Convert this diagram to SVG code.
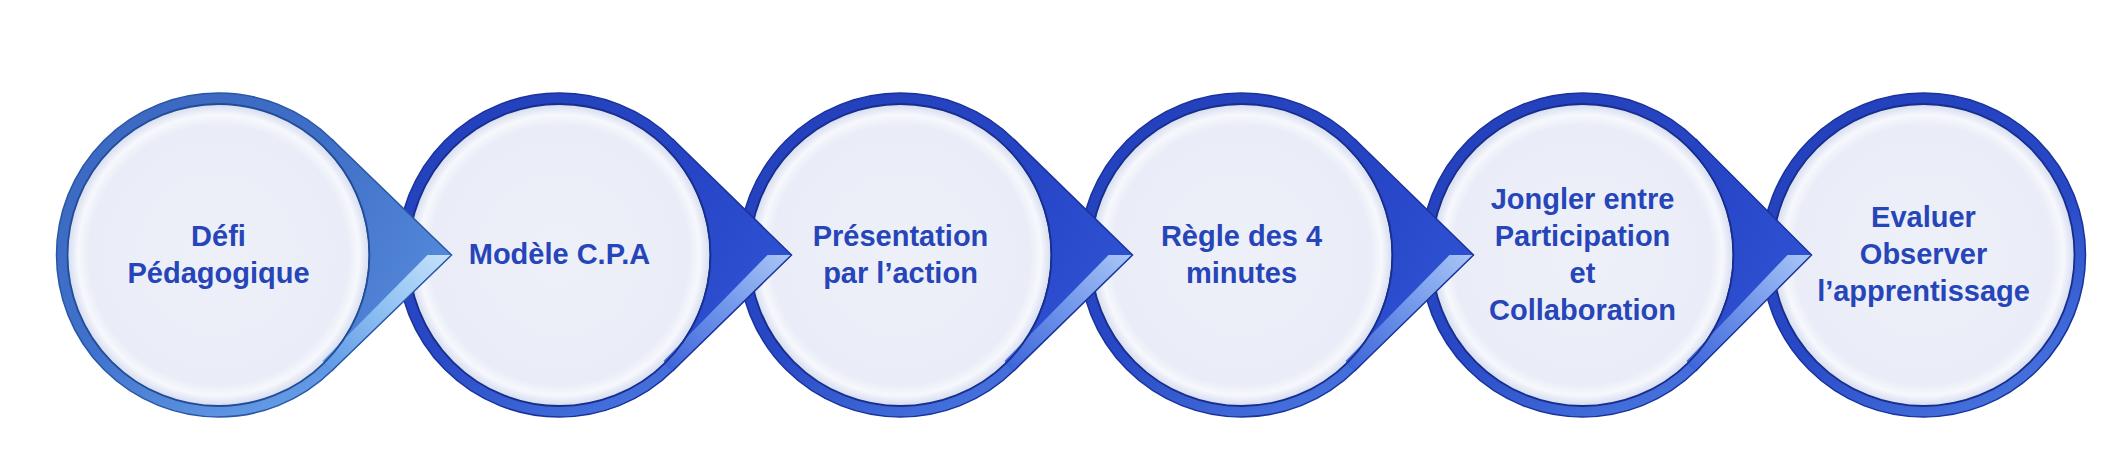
<svg xmlns="http://www.w3.org/2000/svg" width="2122" height="467" viewBox="0 0 2122 467">
  <defs>
    <linearGradient id="ringA" x1="0.2" y1="0" x2="0.8" y2="1">
      <stop offset="0" stop-color="#3c68c0"/>
      <stop offset="0.55" stop-color="#3f72cc"/>
      <stop offset="1" stop-color="#6aa2ea"/>
    </linearGradient>
    <linearGradient id="ringB" x1="0.2" y1="0" x2="0.8" y2="1">
      <stop offset="0" stop-color="#2440bc"/>
      <stop offset="0.55" stop-color="#2848c6"/>
      <stop offset="1" stop-color="#4a78e0"/>
    </linearGradient>
    <linearGradient id="faceA" x1="0" y1="0" x2="1" y2="1">
      <stop offset="0" stop-color="#3f6fc6"/>
      <stop offset="1" stop-color="#5a90e0"/>
    </linearGradient>
    <linearGradient id="faceB" x1="0" y1="0" x2="1" y2="1">
      <stop offset="0" stop-color="#2442c2"/>
      <stop offset="1" stop-color="#3156d8"/>
    </linearGradient>
    <linearGradient id="bevelA" x1="1" y1="0" x2="0" y2="1">
      <stop offset="0" stop-color="#c6e2fb"/>
      <stop offset="0.5" stop-color="#8ec0f2"/>
      <stop offset="1" stop-color="#5e98e4"/>
    </linearGradient>
    <linearGradient id="bevelB" x1="1" y1="0" x2="0" y2="1">
      <stop offset="0" stop-color="#a9c6f6"/>
      <stop offset="0.5" stop-color="#6f95ea"/>
      <stop offset="1" stop-color="#3b62d8"/>
    </linearGradient>
    <radialGradient id="inner" cx="0.5" cy="0.5" r="0.5">
      <stop offset="0" stop-color="#eef0f9"/>
      <stop offset="0.86" stop-color="#eaedf7"/>
      <stop offset="0.93" stop-color="#f7f8fd"/>
      <stop offset="1" stop-color="#d5dcef"/>
    </radialGradient>
    <style>
      .lbl { font-family: "Liberation Sans", Arial, sans-serif; font-weight: bold; font-size: 29px; fill: #2645b8; text-anchor: middle; }
      .ringA { fill: url(#ringA); stroke: #2a56a6; stroke-width: 1.5; }
      .ringB { fill: url(#ringB); stroke: #1a339c; stroke-width: 1.5; }
      .innerA { fill: url(#inner); stroke: #234c96; stroke-width: 1.8; }
      .innerB { fill: url(#inner); stroke: #172e8c; stroke-width: 1.8; }
      .faceA { fill: url(#faceA); }
      .faceB { fill: url(#faceB); }
      .bevelA { fill: url(#bevelA); }
      .bevelB { fill: url(#bevelB); }
      .edgeA { fill: none; stroke: #2a56a6; stroke-width: 1.5; }
      .edgeB { fill: none; stroke: #1a339c; stroke-width: 1.5; }
      .arcA { fill: none; stroke: #234c96; stroke-width: 1.8; }
      .arcB { fill: none; stroke: #172e8c; stroke-width: 1.8; }
    </style>
  </defs>
  <rect width="2122" height="467" fill="#ffffff"/>

  <g id="node6" transform="translate(1923.5,255)">
    <circle class="ringB" r="162"/>
    <circle class="innerB" r="151"/>
    <text class="lbl" y="-28">Evaluer</text>
    <text class="lbl" y="9">Observer</text>
    <text class="lbl" y="46">l’apprentissage</text>
  </g>
  <g id="node5" transform="translate(1582.5,255)">
    <circle class="ringB" r="162"/>
    <circle class="innerB" r="151"/>
    <text class="lbl" y="-46.5">Jongler entre</text>
    <text class="lbl" y="-9.5">Participation</text>
    <text class="lbl" y="27.5">et</text>
    <text class="lbl" y="64.5">Collaboration</text>
  </g>
  <g id="node4" transform="translate(1241.5,255)">
    <circle class="ringB" r="162"/>
    <circle class="innerB" r="151"/>
    <text class="lbl" y="-9.5">Règle des 4</text>
    <text class="lbl" y="27.5">minutes</text>
  </g>
  <g id="node3" transform="translate(900.5,255)">
    <circle class="ringB" r="162"/>
    <circle class="innerB" r="151"/>
    <text class="lbl" y="-9.5">Présentation</text>
    <text class="lbl" y="27.5">par l’action</text>
  </g>
  <g id="node2" transform="translate(559.5,255)">
    <circle class="ringB" r="162"/>
    <circle class="innerB" r="151"/>
    <text class="lbl" y="9">Modèle C.P.A</text>
  </g>
  <g id="node1" transform="translate(218.5,255)">
    <circle class="ringA" r="162"/>
    <circle class="innerA" r="151"/>
    <text class="lbl" y="-9.5">Défi</text>
    <text class="lbl" y="27.5">Pédagogique</text>
  </g>

  <g id="connectors">
    <g id="arrow1" transform="translate(218.5,255)">
      <path class="faceA" d="M113.1,-116 L233,0 L113.1,116 L105.4,108.1 A151,151 0 0 0 105.4,-108.1 Z"/>
      <path class="bevelA" d="M233,0 L113.1,116 L104,106 L209,0 Z"/>
      <path class="edgeA" d="M113.1,-116 L233,0 L113.1,116"/>
      <path class="arcA" d="M105.4,-108.1 A151,151 0 0 1 105.4,108.1"/>
    </g>
    <g id="arrow2" transform="translate(559.5,255)">
      <path class="faceB" d="M113.1,-116 L232,0 L113.1,116 L105.4,108.1 A151,151 0 0 0 105.4,-108.1 Z"/>
      <path class="bevelB" d="M232,0 L113.1,116 L104,106 L208,0 Z"/>
      <path class="edgeB" d="M113.1,-116 L232,0 L113.1,116"/>
      <path class="arcB" d="M105.4,-108.1 A151,151 0 0 1 105.4,108.1"/>
    </g>
    <g id="arrow3" transform="translate(900.5,255)">
      <path class="faceB" d="M113.1,-116 L232,0 L113.1,116 L105.4,108.1 A151,151 0 0 0 105.4,-108.1 Z"/>
      <path class="bevelB" d="M232,0 L113.1,116 L104,106 L208,0 Z"/>
      <path class="edgeB" d="M113.1,-116 L232,0 L113.1,116"/>
      <path class="arcB" d="M105.4,-108.1 A151,151 0 0 1 105.4,108.1"/>
    </g>
    <g id="arrow4" transform="translate(1241.5,255)">
      <path class="faceB" d="M113.1,-116 L232,0 L113.1,116 L105.4,108.1 A151,151 0 0 0 105.4,-108.1 Z"/>
      <path class="bevelB" d="M232,0 L113.1,116 L104,106 L208,0 Z"/>
      <path class="edgeB" d="M113.1,-116 L232,0 L113.1,116"/>
      <path class="arcB" d="M105.4,-108.1 A151,151 0 0 1 105.4,108.1"/>
    </g>
    <g id="arrow5" transform="translate(1582.5,255)">
      <path class="faceB" d="M113.1,-116 L229,0 L113.1,116 L105.4,108.1 A151,151 0 0 0 105.4,-108.1 Z"/>
      <path class="bevelB" d="M229,0 L113.1,116 L104,106 L205,0 Z"/>
      <path class="edgeB" d="M113.1,-116 L229,0 L113.1,116"/>
      <path class="arcB" d="M105.4,-108.1 A151,151 0 0 1 105.4,108.1"/>
    </g>
  </g>
</svg>
